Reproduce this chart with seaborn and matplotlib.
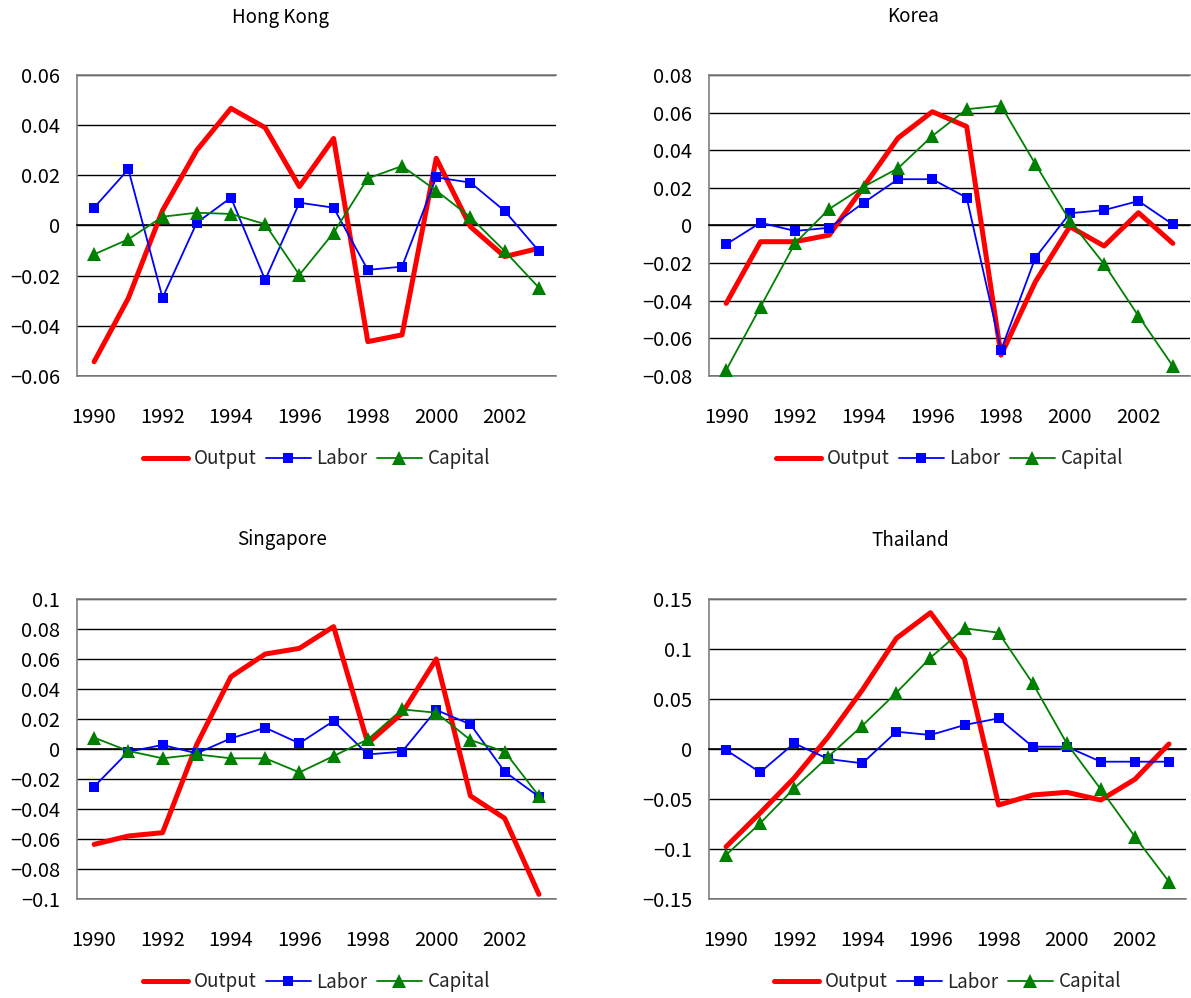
import numpy as np
import pandas as pd
import matplotlib
matplotlib.use("Agg")
import matplotlib.pyplot as plt
import seaborn as sns
from matplotlib.ticker import FuncFormatter

years = list(range(1990, 2004))
year_labels = [1990, 1992, 1994, 1996, 1998, 2000, 2002]

# Hong Kong
hk_output = [-0.0543, -0.0290, 0.0060, 0.0300, 0.0467, 0.0390, 0.0155, 0.0347,
             -0.0463, -0.0436, 0.0268, -0.0005, -0.0124, -0.0091]
hk_labor = [0.0071, 0.0224, -0.0288, 0.0011, 0.0111, -0.0217, 0.0091, 0.0071,
            -0.0177, -0.0164, 0.0192, 0.0171, 0.0058, -0.0102]
hk_capital = [-0.0115, -0.0055, 0.0035, 0.0051, 0.0046, 0.0005, -0.0197, -0.0029,
              0.0188, 0.0237, 0.0139, 0.0033, -0.0102, -0.0248]
hk_yticks = [-0.06, -0.04, -0.02, 0.0, 0.02, 0.04, 0.06]

# Korea
kr_output = [-0.0414, -0.0086, -0.0086, -0.0051, 0.0206, 0.0465, 0.0605, 0.0526,
             -0.0689, -0.0299, -0.0006, -0.0109, 0.0068, -0.0095]
kr_labor = [-0.0100, 0.0015, -0.0029, -0.0012, 0.0121, 0.0246, 0.0246, 0.0148,
            -0.0662, -0.0171, 0.0065, 0.0082, 0.0130, 0.0006]
kr_capital = [-0.0769, -0.0432, -0.0095, 0.0088, 0.0206, 0.0304, 0.0476, 0.0618,
              0.0637, 0.0326, 0.0026, -0.0205, -0.0481, -0.0747]
kr_yticks = [-0.08, -0.06, -0.04, -0.02, 0.0, 0.02, 0.04, 0.06, 0.08]

# Singapore
sg_output = [-0.0636, -0.0580, -0.0558, 0.0030, 0.0482, 0.0633, 0.0671, 0.0816,
             0.0038, 0.0238, 0.0600, -0.0313, -0.0462, -0.0969]
sg_labor = [-0.0251, -0.0018, 0.0027, -0.0029, 0.0071, 0.0142, 0.0038, 0.0187,
            -0.0036, -0.0018, 0.0260, 0.0164, -0.0151, -0.0318]
sg_capital = [0.0076, -0.0013, -0.0062, -0.0036, -0.0062, -0.0062, -0.0156, -0.0047,
              0.0064, 0.0264, 0.0242, 0.0060, -0.0018, -0.0313]
sg_yticks = [-0.1, -0.08, -0.06, -0.04, -0.02, 0.0, 0.02, 0.04, 0.06, 0.08, 0.1]

# Thailand
th_output = [-0.0977, -0.0640, -0.0290, 0.0123, 0.0590, 0.1107, 0.1363, 0.0900,
             -0.0560, -0.0460, -0.0433, -0.0510, -0.0303, 0.0050]
th_labor = [-0.0010, -0.0233, 0.0057, -0.0100, -0.0143, 0.0173, 0.0140, 0.0240,
            0.0307, 0.0023, 0.0023, -0.0127, -0.0127, -0.0127]
th_capital = [-0.1060, -0.0743, -0.0393, -0.0077, 0.0233, 0.0563, 0.0913, 0.1207,
              0.1163, 0.0657, 0.0057, -0.0403, -0.0877, -0.1327]
th_yticks = [-0.15, -0.1, -0.05, 0.0, 0.05, 0.1, 0.15]

sns.set_theme(style="white")
plt.rcParams["font.family"] = ["Noto Sans CJK JP", "DejaVu Sans"]
plt.rcParams["axes.unicode_minus"] = True

FS = 13.5      # titles and legend
TFS = 14.5     # numeric tick labels
fig = plt.figure(figsize=(11.91, 9.98), dpi=100)

W, H = 1191, 998

def px_axes(left, right, top, bottom):
    return [left / W, 1 - bottom / H, (right - left) / W, (bottom - top) / H]

panels = [
    ("Hong Kong", hk_output, hk_labor, hk_capital, hk_yticks,
     px_axes(77, 556, 75, 376), (280, 17)),
    ("Korea", kr_output, kr_labor, kr_capital, kr_yticks,
     px_axes(709, 1190, 75, 376), (913, 17)),
    ("Singapore", sg_output, sg_labor, sg_capital, sg_yticks,
     px_axes(77, 556, 599, 899), (282, 540)),
    ("Thailand", th_output, th_labor, th_capital, th_yticks,
     px_axes(709, 1186, 599, 899), (910, 540)),
]

fmt = FuncFormatter(lambda v, _: f"{round(v, 3):g}".replace("-", "\u2212"))

for title, out, lab, cap, yt, rect, tpos in panels:
    ax = fig.add_axes(rect)
    df = pd.DataFrame({"Year": years, "Output": out, "Labor": lab, "Capital": cap})

    sns.lineplot(data=df, x="Year", y="Output", ax=ax, color="#FF0000",
                 linewidth=3.6, label="Output", legend=False, zorder=3)
    sns.lineplot(data=df, x="Year", y="Labor", ax=ax, color="#0000FF",
                 linewidth=1.3, marker="s", markersize=7.5, markeredgewidth=0,
                 label="Labor", legend=False, zorder=4)
    sns.lineplot(data=df, x="Year", y="Capital", ax=ax, color="#008000",
                 linewidth=1.3, marker="^", markersize=9.5, markeredgewidth=0,
                 label="Capital", legend=False, zorder=5)

    ax.set_xlim(years[0] - 0.5, years[-1] + 0.5)
    ax.set_ylim(yt[0], yt[-1])
    ax.set_yticks(yt)
    ax.yaxis.set_major_formatter(fmt)
    ax.tick_params(axis="y", length=0, pad=12, labelsize=TFS, labelcolor="black")
    ax.yaxis.grid(True, color="black", linewidth=1.0, zorder=0)
    ax.xaxis.grid(False)
    ax.set_axisbelow(True)
    ax.set_xlabel("")
    ax.set_ylabel("")

    # category axis crosses at zero with boundary tick marks pointing up
    ax.spines["bottom"].set_position(("data", 0))
    ax.spines["bottom"].set_color("black")
    ax.spines["bottom"].set_linewidth(1.2)
    ax.set_xticks(np.arange(years[0] - 0.5, years[-1] + 1, 1.0))
    ax.tick_params(axis="x", direction="in", length=6, width=1, color="#333333",
                   labelbottom=False)
    ax.spines["left"].set_color("#808080")
    ax.spines["left"].set_linewidth(1.2)
    ax.spines["top"].set_color("#808080")
    ax.spines["top"].set_linewidth(1.2)
    ax.spines["right"].set_visible(False)

    # year labels along the bottom of the plot area
    sec = ax.secondary_xaxis(0.0)
    sec.set_xticks(year_labels)
    sec.set_xticklabels([str(y) for y in year_labels])
    sec.tick_params(length=0, pad=22, labelsize=TFS, labelcolor="black")
    sec.spines["bottom"].set_color("#808080")
    sec.spines["bottom"].set_linewidth(1.2)

    fig.text(tpos[0] / W, 1 - tpos[1] / H, title, ha="center", va="center",
             fontsize=FS, color="black")

    h, l = ax.get_legend_handles_labels()
    ax.legend(h, l, loc="center", ncol=3, frameon=False, fontsize=FS,
              bbox_to_anchor=(0.5, -(83 / (rect[3] * H))),
              handlelength=2.4, handletextpad=0.3, columnspacing=0.5,
              borderaxespad=0)

fig.savefig("out.png", dpi=100, facecolor="white")
